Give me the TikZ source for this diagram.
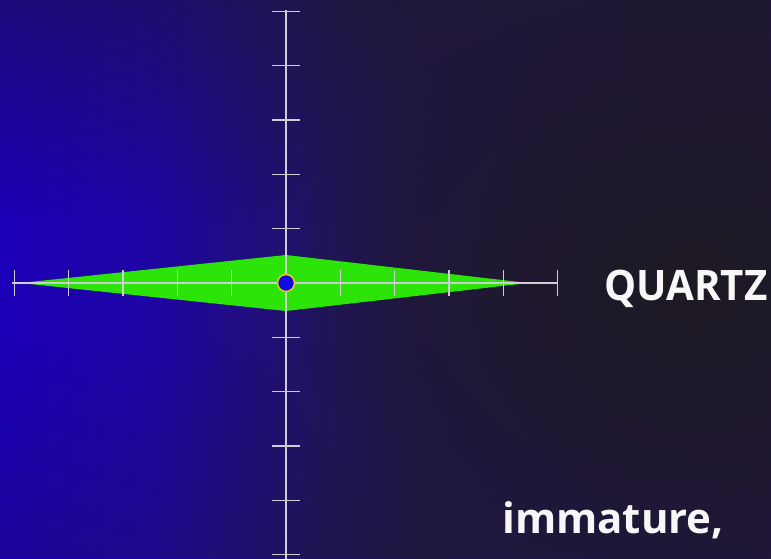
\documentclass[tikz,border=0pt]{standalone}
\usepackage{fontspec}
\setmainfont{Open Sans}
\usetikzlibrary{positioning, fadings}

\definecolor{bgdark}{RGB}{30,26,34}
\definecolor{diamondgreen}{RGB}{44,228,8}
\definecolor{dotblue}{RGB}{12,12,225}
\definecolor{dotring}{RGB}{235,200,20}
\definecolor{axisgray}{RGB}{205,205,212}

\pgfdeclarehorizontalshading{bgshade}{100bp}{rgb(0bp)=(0.11,0.0,0.72);
  rgb(25bp)=(0.11,0.0,0.72); rgb(35bp)=(0.12,0.02,0.64); rgb(41bp)=(0.13,0.05,0.50);
  rgb(46bp)=(0.13,0.08,0.36); rgb(52bp)=(0.13,0.09,0.28); rgb(75bp)=(0.13,0.09,0.24);
  rgb(100bp)=(0.13,0.09,0.24)}
\tikzfading[name=darkspot, inner color=transparent!0, outer color=transparent!100]

\begin{document}
\begin{tikzpicture}[x=1pt, y=-1pt,
    axisline/.style={draw=axisgray, line width=1.6pt},
    tickmark/.style={draw=axisgray, line width=1.4pt},
    bigtext/.style={text=white!94!gray, inner sep=0pt, anchor=base west,
      font=\bfseries\fontsize{42}{50}\selectfont}]
\useasboundingbox (0,0) rectangle (771,558);
% background
\shade[shading=bgshade] (0,0) rectangle (771,558);
\fill[bgdark, opacity=0.4, path fading=south] (0,0) rectangle (771,220);
\fill[bgdark, opacity=0.2, path fading=north] (0,340) rectangle (771,558);
\fill[bgdark, path fading=darkspot] (690,285) ellipse [x radius=400, y radius=290];
\coordinate (o) at (286,283);
% diamond
\fill[diamondgreen] (20,283) -- (286,255) -- (528,283) -- (286,311) -- cycle;
% axes
\draw[axisline] (12,283) -- (557,283);
\draw[axisline] (286,10) -- (286,560);
\foreach \i in {-5,...,-1,1,2,...,5} {
  \draw[tickmark] (286+\i*54.35,270) -- (286+\i*54.35,296);
  \draw[tickmark] (272,283+\i*54.35) -- (300,283+\i*54.35);
}
% point
\node[circle, fill=dotblue, draw=dotring, line width=1.5pt, minimum size=17pt, inner sep=0pt] (pt) at (o) {};
% texts
\node[bigtext] (quartz) at (604,300) {\scalebox{0.96}[1]{QUARTZ}};
\node[bigtext] (immature) at (502,533) {immature,};
\end{tikzpicture}
\end{document}
